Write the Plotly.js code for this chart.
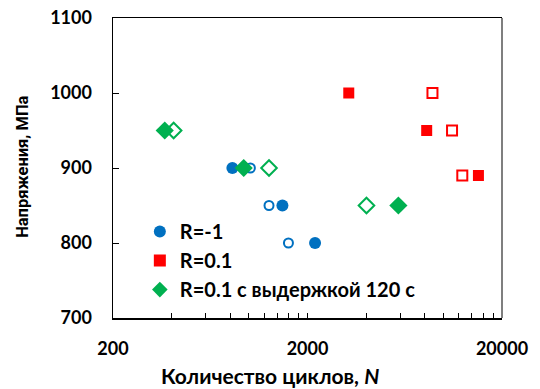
<!DOCTYPE html>
<html>
<head>
<meta charset="utf-8">
<script src="https://cdn.plot.ly/plotly-3.0.1.min.js"></script>
<style>html,body{margin:0;padding:0;background:#fff;}#chart{width:540px;height:389px;}</style>
</head>
<body>
<div id="chart"></div>
<script>
// R = -1
const rm1FilledN = [822, 1486, 2187];
const rm1FilledS = [900, 850, 800];
const rm1OpenN = [1017, 1268, 1596];
const rm1OpenS = [900, 850, 800];
// R = 0.1
const r01FilledN = [3260, 8200, 15130];
const r01FilledS = [1000, 950, 890];
const r01OpenN = [8780, 11070, 12500];
const r01OpenS = [1000, 950, 890];
// R = 0.1 with 120 s hold
const holdFilledN = [369, 940, 5865];
const holdFilledS = [950, 900, 850];
const holdOpenN = [410, 1268, 4020];
const holdOpenS = [950, 900, 850];

const legendNames = ['R=-1', 'R=0.1', 'R=0.1 с выдержкой 120 с'];
const xTitle = 'Количество циклов, <i>N</i>';
const yTitle = 'Напряжения, МПа';
const xTicks = [200, 2000, 20000];
const yTicks = [700, 800, 900, 1000, 1100];
const xMinor = [400, 600, 800, 1000, 1200, 1400, 1600, 1800, 4000, 6000, 8000, 10000, 12000, 14000, 16000, 18000];

const blue = '#0070C0', red = '#FF0000', green = '#00B050';
const FONT = 'Lato, "Liberation Sans", sans-serif';
const YFONT = 'Roboto, "Liberation Sans", Arial, sans-serif';

const traces = [
  {x: rm1OpenN, y: rm1OpenS, mode: 'markers', showlegend: false,
   marker: {symbol: 'circle-open', size: 9, color: blue, line: {width: 2, color: blue}}},
  {x: r01OpenN, y: r01OpenS, mode: 'markers', showlegend: false,
   marker: {symbol: 'square-open', size: 10, color: red, line: {width: 2, color: red}}},
  {x: holdOpenN, y: holdOpenS, mode: 'markers', showlegend: false,
   marker: {symbol: 'diamond-open', size: 12, color: green, line: {width: 2, color: green}}},
  {x: rm1FilledN, y: rm1FilledS, mode: 'markers', name: legendNames[0],
   marker: {symbol: 'circle', size: 12, color: blue}},
  {x: r01FilledN, y: r01FilledS, mode: 'markers', name: legendNames[1],
   marker: {symbol: 'square', size: 11, color: red}},
  {x: holdFilledN, y: holdFilledS, mode: 'markers', name: legendNames[2],
   marker: {symbol: 'diamond', size: 14, color: green}}
];

const layout = {
  width: 540, height: 389,
  margin: {l: 113, r: 38, t: 18, b: 71},
  paper_bgcolor: '#fff', plot_bgcolor: '#fff',
  font: {family: FONT, size: 16, color: '#000', weight: 'bold'},
  showlegend: true,
  legend: {x: 0.069, y: 0.353, xanchor: 'left', yanchor: 'top', bgcolor: 'rgba(0,0,0,0)',
           font: {family: FONT, size: 20, color: '#000', weight: 'bold'},
           tracegroupgap: 0, itemsizing: 'constant', traceorder: 'normal'},
  xaxis: {
    type: 'log', range: [Math.log10(200), Math.log10(20000)],
    tickmode: 'array', tickvals: xTicks, ticktext: xTicks.map(String),
    ticks: 'inside', ticklen: 5, tickwidth: 1, tickcolor: '#000',
    minor: {tickmode: 'array', tickvals: xMinor, ticks: 'inside', ticklen: 5, tickwidth: 1, tickcolor: '#000', showgrid: false},
    showline: true, linecolor: '#000', linewidth: 1.5, mirror: true,
    showgrid: false, zeroline: false,
    tickfont: {family: FONT, size: 18, weight: 'bold'},
    ticklabelstandoff: 14
  },
  yaxis: {
    range: [700, 1100],
    tickmode: 'array', tickvals: yTicks, ticktext: yTicks.map(String),
    ticks: 'inside', ticklen: 6, tickwidth: 1, tickcolor: '#000',
    showline: true, linecolor: '#000', linewidth: 1.5, mirror: false,
    showgrid: false, zeroline: false,
    tickfont: {family: FONT, size: 18, weight: 'bold'},
    ticklabelstandoff: 16
  },
  annotations: [
    {text: xTitle, xref: 'paper', yref: 'paper', x: 0.404, y: -0.19, xanchor: 'center', yanchor: 'middle',
     showarrow: false, font: {family: FONT, size: 21, weight: 'bold', color: '#000'}},
    {text: yTitle, xref: 'paper', yref: 'paper', x: -0.233, y: 0.505, xanchor: 'center', yanchor: 'middle',
     textangle: -90, showarrow: false, font: {family: YFONT, size: 16.5, weight: 'bold', color: '#000'}}
  ],
  shapes: [
    {type: 'line', xref: 'paper', yref: 'paper', x0: 1, x1: 1, y0: 0, y1: 1,
     line: {color: '#7f7f7f', width: 2}}
  ]
};

Plotly.newPlot('chart', traces, layout, {displayModeBar: false, staticPlot: true});
</script>
</body>
</html>
